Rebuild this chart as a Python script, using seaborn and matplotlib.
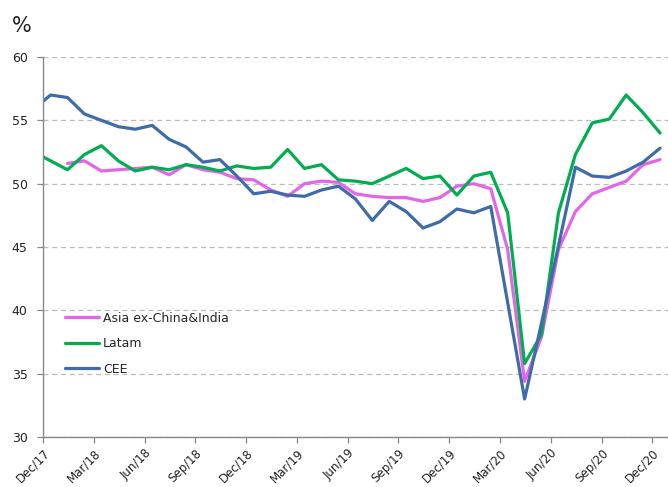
import numpy as np
import pandas as pd
import matplotlib
matplotlib.use("Agg")
import matplotlib.pyplot as plt
import matplotlib.transforms as mtrans
import seaborn as sns

# monthly PMI readings, Nov/17 .. Dec/20 (Nov/17 only shows as the clipped start of the line)
months = pd.date_range("2017-11-01", "2020-12-01", freq="MS").strftime("%b/%y").tolist()

asia = [np.nan, np.nan, 51.6, 51.8, 51.0, 51.1, 51.2, 51.3, 50.7, 51.5, 51.1, 50.9,
        50.4, 50.3, 49.5, 49.0, 50.0, 50.2, 50.1, 49.2, 49.0, 48.9, 48.9, 48.6,
        48.9, 49.8, 50.0, 49.6, 44.8, 34.4, 37.9, 44.8, 47.8, 49.2, 49.7, 50.2,
        51.5, 51.9]
latam = [52.5, 51.8, 51.1, 52.3, 53.0, 51.8, 51.0, 51.3, 51.1, 51.5, 51.3, 51.0,
         51.4, 51.2, 51.3, 52.7, 51.2, 51.5, 50.3, 50.2, 50.0, 50.6, 51.2, 50.4,
         50.6, 49.1, 50.6, 50.9, 47.7, 35.8, 38.1, 47.7, 52.3, 54.8, 55.1, 57.0,
         55.6, 54.0]
cee = [55.9, 57.0, 56.8, 55.5, 55.0, 54.5, 54.3, 54.6, 53.5, 52.9, 51.7, 51.9,
       50.6, 49.2, 49.4, 49.1, 49.0, 49.5, 49.8, 48.8, 47.1, 48.6, 47.8, 46.5,
       47.0, 48.0, 47.7, 48.2, 40.6, 33.0, 39.0, 45.1, 51.3, 50.6, 50.5, 51.0,
       51.7, 52.8]

series = ["Asia ex-China&India", "Latam", "CEE"]
colors = ["#E366E9", "#00AE50", "#3F6CA8"]

# month index with Dec/17 = 0; readings sit a little past the month tick
pos = np.arange(len(months)) - 1 + 0.45

df = pd.DataFrame({"pos": pos, "Asia ex-China&India": asia, "Latam": latam, "CEE": cee})
long = df.melt(id_vars="pos", var_name="region", value_name="pmi").dropna()

sns.set_style("white")
plt.rcParams["font.family"] = ["DejaVu Sans"]

fig = plt.figure(figsize=(6.68, 4.87), dpi=100)
ax = fig.add_axes([43 / 668, 50 / 487, 625 / 668, 380 / 487])

sns.lineplot(data=long, x="pos", y="pmi", hue="region", hue_order=series,
             palette=colors, linewidth=2.3, ax=ax, sort=True)

ax.set_xlim(0, 36.92)
ax.set_ylim(30, 60)
ax.set_yticks(range(30, 61, 5))
tick_pos = np.arange(0, 37, 3)
ax.set_xticks(tick_pos)
ax.set_xticklabels([months[i + 1] for i in tick_pos], rotation=45, ha="right",
                   rotation_mode="anchor", fontsize=8.5, color="#222222")
# nudge the slanted labels a bit to the right, like the original
shift = mtrans.ScaledTranslation(6 / 100, 0, fig.dpi_scale_trans)
for lab in ax.get_xticklabels():
    lab.set_transform(lab.get_transform() + shift)
ax.tick_params(axis="y", labelsize=9, labelcolor="#222222", pad=7)
ax.tick_params(axis="x", pad=3)
ax.tick_params(axis="both", which="major", length=4, width=0.9, color="#888888",
               direction="out", bottom=True, left=True)
ax.set_xlabel("")
ax.set_ylabel("")

ax.grid(axis="y", linestyle=(0, (4, 3)), color="#BBBBBB", linewidth=0.9)
ax.set_axisbelow(True)
for s in ["top", "right"]:
    ax.spines[s].set_visible(False)
for s in ["left", "bottom"]:
    ax.spines[s].set_color("#888888")
    ax.spines[s].set_linewidth(1.0)

handles, labels = ax.get_legend_handles_labels()
ax.legend(handles, labels, loc="upper left", bbox_to_anchor=(0.035, 0.33),
          frameon=False, fontsize=9, handlelength=2.7, handletextpad=0.35,
          labelspacing=1.0, borderpad=0, borderaxespad=0)

fig.text(12 / 668, 1 - 32 / 487, "%", fontsize=15, color="#222222", va="baseline", ha="left")

fig.savefig("out.png", dpi=100)
